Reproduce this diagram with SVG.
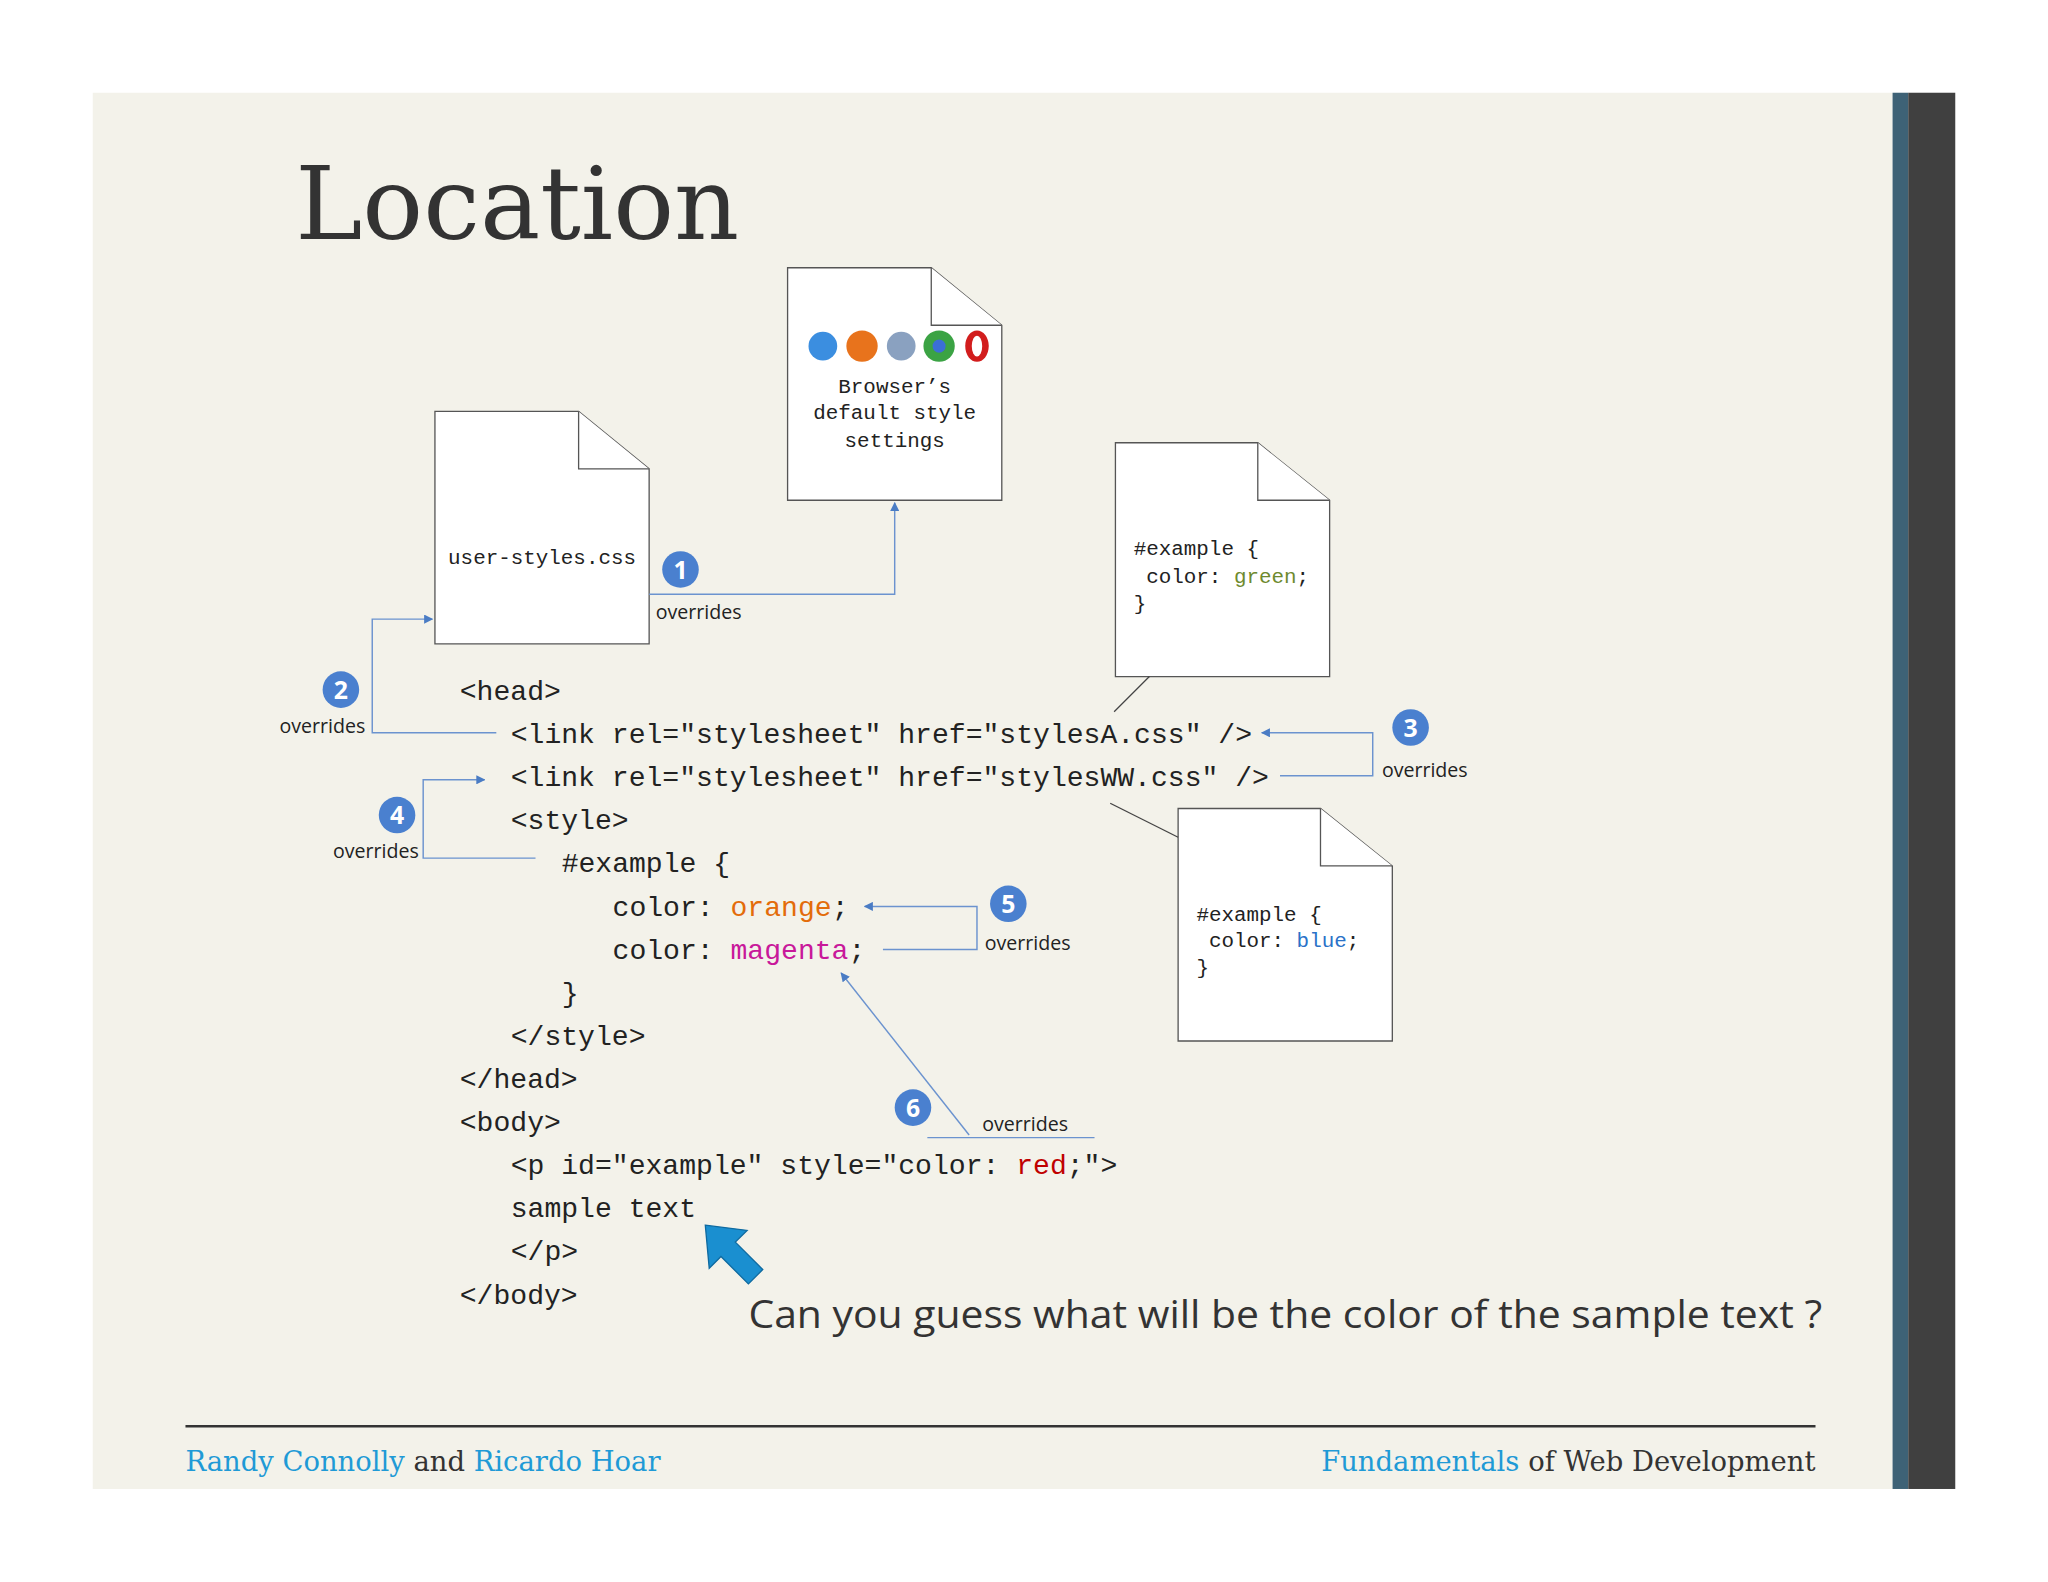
<svg xmlns="http://www.w3.org/2000/svg" width="2048" height="1582" viewBox="0 0 2048 1582">
<style>
.doc{fill:#fff;stroke:#555;stroke-width:1}
.mono{font-family:"Liberation Mono","DejaVu Sans Mono",monospace;fill:#222}
.code{font-size:21.5px}
.small{font-size:16px}
.con{fill:none;stroke:#6b93cf;stroke-width:1.1}
.gcon{fill:none;stroke:#444;stroke-width:1}
.lbl{font-family:"Open Sans","Noto Sans",sans-serif;font-size:15px;fill:#222}
.num{fill:#4a80cf}
.numt{font-family:"Open Sans","Noto Sans",sans-serif;font-size:19px;font-weight:bold;fill:#fff;text-anchor:middle}
.ft{font-family:"DejaVu Serif","Liberation Serif",serif;font-size:21px}
</style>
<defs>
<marker id="ah" viewBox="0 0 10 10" refX="9" refY="5" markerWidth="7" markerHeight="7" orient="auto" markerUnits="userSpaceOnUse"><path d="M0,0 L10,5 L0,10 z" fill="#4a7cc4"/></marker>
</defs>
<rect width="2048" height="1582" fill="#fff"/>
<g transform="scale(1.30612)">
<rect x="71" y="71" width="1378" height="1069" fill="#f3f2ea"/>
<rect x="1449" y="71" width="12" height="1069" fill="#3e6276"/>
<rect x="1461" y="71" width="36" height="1069" fill="#404040"/>
<text x="226" y="183" font-family="'DejaVu Serif','Liberation Serif',serif" font-size="78" fill="#333" textLength="340" lengthAdjust="spacingAndGlyphs">Location</text>

<g id="browser">
<path class="doc" d="M603,205 H713 L767,249 V383 H603 Z"/><path class="doc" d="M713,205 V249 H767" fill="none"/>
<circle cx="630" cy="265" r="11" fill="#3b8ee0"/><circle cx="660" cy="265" r="12" fill="#e8731c"/><circle cx="690" cy="265" r="11" fill="#8aa1c0"/><circle cx="719" cy="265" r="12" fill="#3ba344"/><circle cx="719" cy="265" r="5" fill="#3b6fd6"/><ellipse cx="748" cy="265" rx="9" ry="12" fill="#d21d1d"/><ellipse cx="748" cy="265" rx="4" ry="8" fill="#fff"/>
<text class="mono small" text-anchor="middle" x="685" y="301">Browser’s</text>
<text class="mono small" text-anchor="middle" x="685" y="321">default style</text>
<text class="mono small" text-anchor="middle" x="685" y="342">settings</text>
</g>
<g id="user">
<path class="doc" d="M333,315 H443 L497,359 V493 H333 Z"/><path class="doc" d="M443,315 V359 H497" fill="none"/>
<text class="mono small" text-anchor="middle" x="415" y="432">user-styles.css</text>
</g>
<g id="stylesA">
<path class="doc" d="M854,339 H963 L1018,383 V518 H854 Z"/><path class="doc" d="M963,339 V383 H1018" fill="none"/>
<text class="mono small" x="868" y="425">#example {</text>
<text class="mono small" x="868" y="446" xml:space="preserve"> color: <tspan fill="#6e8a2e">green</tspan>;</text>
<text class="mono small" x="868" y="467">}</text>
</g>
<g id="stylesWW">
<path class="doc" d="M902,619 H1011 L1066,663 V797 H902 Z"/><path class="doc" d="M1011,619 V663 H1066" fill="none"/>
<text class="mono small" x="916" y="705">#example {</text>
<text class="mono small" x="916" y="725" xml:space="preserve"> color: <tspan fill="#2a72c8">blue</tspan>;</text>
<text class="mono small" x="916" y="746">}</text>
</g>

<g id="code" class="mono code">
<text x="352" y="536">&lt;head&gt;</text>
<text x="391" y="569">&lt;link rel="stylesheet" href="stylesA.css" /&gt;</text>
<text x="391" y="602">&lt;link rel="stylesheet" href="stylesWW.css" /&gt;</text>
<text x="391" y="635">&lt;style&gt;</text>
<text x="430" y="668">#example {</text>
<text x="469" y="701">color: <tspan fill="#e36c0a">orange</tspan>;</text>
<text x="469" y="734">color: <tspan fill="#c8189a">magenta</tspan>;</text>
<text x="430" y="767">}</text>
<text x="391" y="800">&lt;/style&gt;</text>
<text x="352" y="833">&lt;/head&gt;</text>
<text x="352" y="866">&lt;body&gt;</text>
<text x="391" y="899">&lt;p id="example" style="color: <tspan fill="#c00000">red</tspan>;"&gt;</text>
<text x="391" y="932">sample text</text>
<text x="391" y="965">&lt;/p&gt;</text>
<text x="352" y="998">&lt;/body&gt;</text>
</g>

<g id="connectors">
<path class="gcon" d="M880,518 L853,545"/>
<path class="gcon" d="M850,615 L902,641"/>
<path class="con" d="M497,455 H685 V385" marker-end="url(#ah)"/>
<path class="con" d="M380,561 H285 V474 H331" marker-end="url(#ah)"/>
<path class="con" d="M980,594 H1051 V561 H966" marker-end="url(#ah)"/>
<path class="con" d="M410,657 H324 V597 H371" marker-end="url(#ah)"/>
<path class="con" d="M676,727 H748 V694 H662" marker-end="url(#ah)"/>
<path class="con" d="M710,871 H838"/>
<path class="con" d="M742,869 L644,745" marker-end="url(#ah)"/>
</g>
<g id="labels">
<circle class="num" cx="521" cy="436" r="14"/><text class="numt" x="521" y="443">1</text><text class="lbl" x="502" y="474">overrides</text>
<circle class="num" cx="261" cy="528" r="14"/><text class="numt" x="261" y="535">2</text><text class="lbl" x="214" y="561">overrides</text>
<circle class="num" cx="1080" cy="557" r="14"/><text class="numt" x="1080" y="564">3</text><text class="lbl" x="1058" y="595">overrides</text>
<circle class="num" cx="304" cy="624" r="14"/><text class="numt" x="304" y="631">4</text><text class="lbl" x="255" y="657">overrides</text>
<circle class="num" cx="772" cy="692" r="14"/><text class="numt" x="772" y="699">5</text><text class="lbl" x="754" y="727">overrides</text>
<circle class="num" cx="699" cy="848" r="14"/><text class="numt" x="699" y="855">6</text><text class="lbl" x="752" y="866">overrides</text>
</g>
<polygon points="540,938 572,942 563,951 584,972 573,983 552,962 543,971" fill="#1a8fd0" stroke="#0e6aa0" stroke-width="1"/>
<text x="573" y="1017" font-family="'Open Sans','Noto Sans',sans-serif" font-size="30" fill="#333" textLength="822" lengthAdjust="spacingAndGlyphs">Can you guess what will be the color of the sample text ?</text>
<line x1="142" y1="1092" x2="1390" y2="1092" stroke="#333" stroke-width="2"/>
<text class="ft" x="142" y="1126" fill="#333"><tspan fill="#1f9ad6">Randy Connolly</tspan> and <tspan fill="#1f9ad6">Ricardo Hoar</tspan></text>
<text class="ft" x="1390" y="1126" text-anchor="end" fill="#333"><tspan fill="#1f9ad6">Fundamentals</tspan> of Web Development</text>
</g>
</svg>
